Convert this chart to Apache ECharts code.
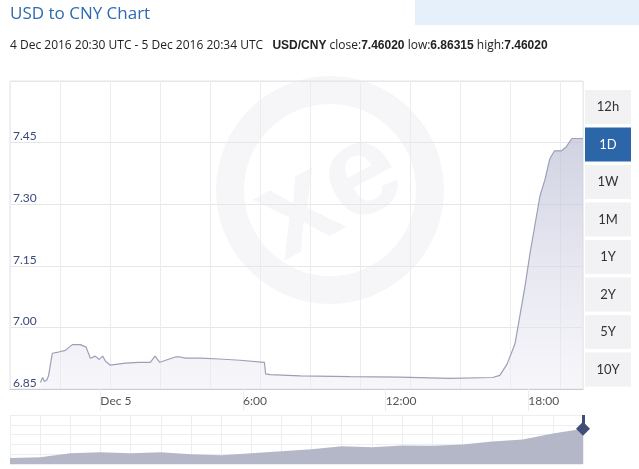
<!DOCTYPE html>
<html><head><meta charset="utf-8">
<script src="https://cdn.jsdelivr.net/npm/echarts@6/dist/echarts.min.js"></script>
<style>html,body{margin:0;padding:0;background:#fff}#chart{width:639px;height:469px}</style>
</head><body>
<div id="chart"></div>
<script>
// hours relative to Dec 5 00:00 UTC
const hours = [-2.52, -2.43, -2.35, -2.25, -2.18, -2.02, -1.76, -1.47, -1.18, -0.84, -0.6, -0.42, -0.21, -0.05, 0.1, 0.21, 0.42, 1.05, 1.6, 2.1, 2.3, 2.5, 3.15, 3.36, 3.57, 4.2, 5.0, 5.88, 6.9, 6.95, 7.14, 8.4, 10.5, 12.6, 14.7, 16.5, 16.8, 17.1, 17.44, 17.65, 17.86, 18.07, 18.28, 18.49, 18.7, 18.9, 19.1, 19.4, 19.6, 19.83, 20.3];
const rates = [6.866, 6.878, 6.868, 6.872, 6.882, 6.937, 6.94, 6.944, 6.958, 6.958, 6.952, 6.925, 6.93, 6.922, 6.93, 6.918, 6.908, 6.913, 6.915, 6.915, 6.93, 6.915, 6.928, 6.928, 6.925, 6.925, 6.923, 6.92, 6.915, 6.887, 6.885, 6.882, 6.88, 6.879, 6.876, 6.878, 6.883, 6.91, 6.96, 7.03, 7.10, 7.18, 7.25, 7.32, 7.36, 7.41, 7.43, 7.43, 7.44, 7.46, 7.46];
const yTicks = [6.85, 7.00, 7.15, 7.30, 7.45];
const xTicks = [0, 6, 12, 18];
const xTickLabels = ['Dec 5', '6:00', '12:00', '18:00'];
const navValues = [0.12, 0.14, 0.22, 0.24, 0.22, 0.24, 0.2, 0.18, 0.22, 0.26, 0.3, 0.36, 0.34, 0.38, 0.37, 0.4, 0.46, 0.5, 0.62, 0.72];
const ranges = ['12h', '1D', '1W', '1M', '1Y', '2Y', '5Y', '10Y'];

const base = yTicks[0];
const series = hours.map((h, i) => [h, +(rates[i] - base).toFixed(4)]);

const graphic = [
  { type: 'rect', shape: { x: 415, y: 0, width: 224, height: 25 }, style: { fill: '#e6f0fa' } },
  { type: 'text', left: 10, top: 6, style: { text: 'USD to CNY Chart', fill: '#2d6bb3', font: '17px "Open Sans", sans-serif' } },
  { type: 'text', left: 10, top: 40, style: {
      text: '4 Dec 2016 20:30 UTC - 5 Dec 2016 20:34 UTC   {b|USD/CNY} close:{b|7.46020} low:{b|6.86315} high:{b|7.46020}',
      fill: '#222', font: '12px "Open Sans", sans-serif',
      rich: { b: { fontWeight: 'bold', fill: '#222', font: 'bold 12px "Open Sans", sans-serif' } } } },
  { type: 'circle', z: -1, shape: { cx: 330, cy: 190, r: 100 }, style: { fill: 'none', stroke: '#f6f6f8', lineWidth: 28 } },
  { type: 'text', z: -1, x: 330, y: 195, rotation: 0.5, style: { text: 'xe', align: 'center', verticalAlign: 'middle', fill: '#f6f6f8', font: 'bold 130px sans-serif' } }
];
ranges.forEach((r, i) => {
  const y = 90 + i * 37.5;
  const on = r === '1D';
  graphic.push({ type: 'rect', shape: { x: 585, y: y, width: 46, height: 34 }, style: { fill: on ? '#2b66a8' : '#f2f2f4' } });
  graphic.push({ type: 'text', x: 608, y: y + 17, style: { text: r, align: 'center', verticalAlign: 'middle', fill: on ? '#fff' : '#333', font: '13px Lato, sans-serif' } });
});

const chart = echarts.init(document.getElementById('chart'));
chart.setOption({
  animation: false,
  graphic: graphic,
  grid: [
    { left: 10, right: 56, top: 81, bottom: 80, show: true, borderColor: '#e4e4e4', borderWidth: 1 },
    { left: 10, right: 56, top: 415, bottom: 5 }
  ],
  xAxis: [
    { type: 'value', gridIndex: 0, min: -3.8, max: 20.3,
      axisLine: { lineStyle: { color: '#ccc' } },
      axisTick: { show: true, length: 22, customValues: xTicks, lineStyle: { color: '#ececec' } },
      splitLine: { show: false },
      axisLabel: { color: '#555', fontSize: 12, fontFamily: 'Lato, sans-serif', align: 'left', margin: 6,
        customValues: xTicks, formatter: v => xTickLabels[xTicks.indexOf(v)] || '' } },
    { type: 'value', gridIndex: 0, min: 0, max: 573, interval: 50, show: true, position: 'top',
      axisLine: { show: false }, axisTick: { show: false }, axisLabel: { show: false },
      splitLine: { lineStyle: { color: '#ececec' } } },
    { type: 'category', gridIndex: 1, boundaryGap: false, data: navValues.map((v, i) => i),
      axisLine: { show: false }, axisTick: { show: false }, axisLabel: { show: false },
      splitLine: { show: true, lineStyle: { color: '#eee' } } }
  ],
  yAxis: [
    { type: 'value', gridIndex: 0, min: 0, max: 0.75, interval: 0.15,
      axisLine: { show: false }, axisTick: { show: false },
      splitLine: { lineStyle: { color: '#e6e6e6' } },
      axisLabel: { inside: true, verticalAlign: 'bottom', color: '#3c4a7a', fontSize: 12, fontFamily: 'Lato, sans-serif',
        margin: 3, showMaxLabel: false, formatter: v => (v + base).toFixed(2) } },
    { type: 'value', gridIndex: 1, min: 0, max: 1, show: true,
      axisLine: { show: false }, axisTick: { show: false }, axisLabel: { show: false },
      splitLine: { lineStyle: { color: '#eee' } } }
  ],
  series: [
    { type: 'line', xAxisIndex: 0, yAxisIndex: 0, data: series, symbol: 'none',
      lineStyle: { color: '#9d9fb8', width: 1.2 },
      areaStyle: { color: new echarts.graphic.LinearGradient(0, 0, 0, 1, [
        { offset: 0, color: 'rgba(185,188,212,0.95)' }, { offset: 1, color: 'rgba(238,238,246,0.7)' }]) } },
    { type: 'line', xAxisIndex: 2, yAxisIndex: 1, data: navValues, symbol: 'none',
      lineStyle: { width: 0 }, areaStyle: { color: '#b4b7c8', opacity: 1 },
      markLine: { symbol: ['none', 'diamond'], symbolSize: 14, silent: true, label: { show: false },
        lineStyle: { color: '#3f4f7a', width: 3, type: 'solid' },
        data: [[{ coord: [navValues.length - 1, 1] }, { coord: [navValues.length - 1, 0.72] }]] } }
  ]
});
</script>
</body></html>
